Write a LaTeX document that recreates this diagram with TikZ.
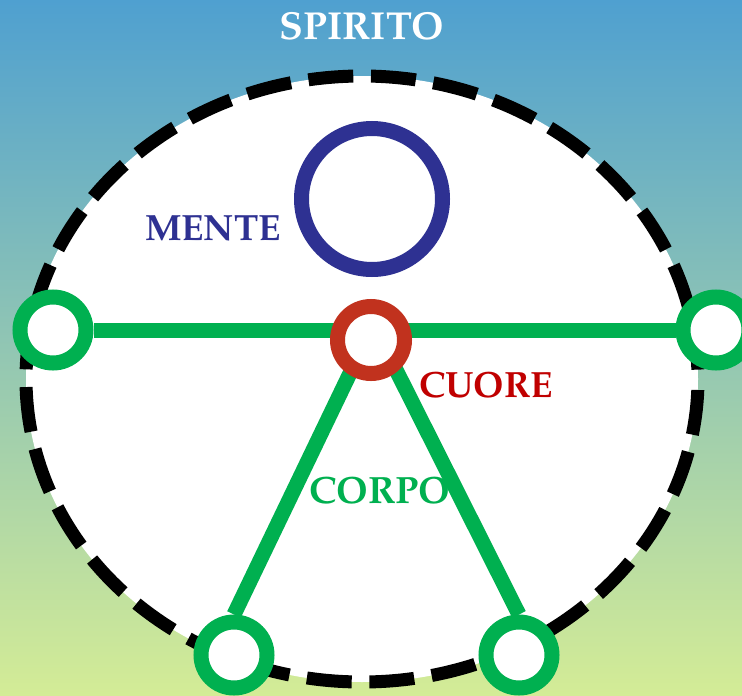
\documentclass[tikz,border=0pt]{standalone}
\usepackage{fontspec}
\setmainfont{TeX Gyre Pagella}
\pgfdeclarelayer{bg}
\pgfsetlayers{bg,main}
\definecolor{bgtop}{RGB}{79,160,208}
\definecolor{bgbot}{RGB}{212,236,150}
\definecolor{mblue}{RGB}{46,49,146}
\definecolor{cred}{RGB}{193,50,30}
\definecolor{tred}{RGB}{192,0,0}
\definecolor{cgreen}{RGB}{0,176,80}
\tikzset{
  ring/.style={circle, fill=white, draw=#1, inner sep=0pt},
  greenring/.style={ring=cgreen, line width=15pt, minimum size=66pt},
  limb/.style={draw=cgreen, line width=15pt},
  label/.style={font=\bfseries\fontsize{#1}{#1}\selectfont, anchor=base, inner sep=0pt},
}
\begin{document}
\begin{tikzpicture}[x=1pt,y=-1pt]
\useasboundingbox (0,0) rectangle (742,696);
\begin{pgfonlayer}{bg}
\shade[top color=bgtop, bottom color=bgbot] (0,0) rectangle (742,696);
\draw[fill=white, line width=13pt, dash pattern=on 45pt off 17.7pt, dash phase=51.7pt] (362,379) ellipse [x radius=336, y radius=303];
\end{pgfonlayer}
\node[ring=mblue, line width=15pt, minimum size=141pt] (M) at (372,199) {};
\node[ring=cred, line width=15pt, minimum size=67pt] (C) at (371,340) {};
\node[greenring] (L) at (53,330) {};
\node[greenring] (R) at (716,330) {};
\node[greenring] (BL) at (234,655) {};
\node[greenring] (BR) at (519,655) {};
\begin{pgfonlayer}{bg}
\draw[limb] (L) -- (R);
\draw[limb] ([xshift=-5pt]C.center) -- (BL.north);
\draw[limb] ([xshift=10pt]C.center) -- (BR.north);
\end{pgfonlayer}
\node[label=39, text=white] (spirito) at (362,39) {SPIRITO};
\node[label=36.5, text=mblue] (mente) at (213,240) {MENTE};
\node[label=36.5, text=tred] (cuore) at (486,397) {CUORE};
\node[label=38, text=cgreen] (corpo) at (380,503) {CORPO};
\end{tikzpicture}
\end{document}
